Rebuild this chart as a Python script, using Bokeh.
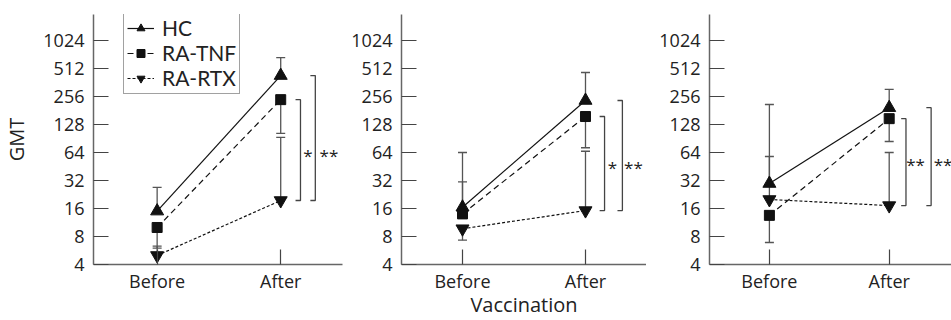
from bokeh.plotting import figure
from bokeh.models import (Range1d, FixedTicker, Whisker, ColumnDataSource, Legend,
                          LegendItem, TeeHead)
from bokeh.layouts import row
from bokeh.embed import file_html
from bokeh.resources import INLINE
from bokeh.core.properties import value

# ---------------- data ----------------
x_pos = [1, 2]
x_labels = ["Before", "After"]
y_ticks = [4, 8, 16, 32, 64, 128, 256, 512, 1024]
y_tick_labels = ["4", "8", "16", "32", "64", "128", "256", "512", "1024"]

series_names = ["HC", "RA-TNF", "RA-RTX"]

# geometric mean titres per panel (Before, After)
HC_before = [15, 16.5, 29.7]
HC_after = [430, 232, 194]
TNF_before = [10, 14, 13.5]
TNF_after = [237, 156, 148]
RTX_before = [5, 9.7, 20]
RTX_after = [19.5, 15.2, 17.2]

# end of the one-sided error bar per panel
HC_before_err = [27, 64, 210]
HC_after_err = [670, 464, 305]
TNF_before_err = [6, 31, 6.9]
TNF_after_err = [103, 72, 84]
RTX_before_err = [6.3, 7.3, 58]
RTX_after_err = [93, 66, 64]

# significance annotations
inner_stars = ["*", "*", "**"]
outer_stars = ["**", "**", "**"]
star_level = [59, 44, 47.5]

x_title = "Vaccination"
y_title = "GMT"

# ---------------- layout ----------------
FONT = "Open Sans"
LFONT = "Lato"
TXT = "#222222"
AX = "#666666"
panel_geom = [
    dict(width=345, left=92, right=3, xs=0.485, xe=2.5),
    dict(width=301, left=56, right=0, xs=0.504, xe=2.496),
    dict(width=305, left=63, right=0, xs=0.5, xe=2.52),
]
bracket_geom = [
    dict(inner=0.16, outer=0.28, tin=0.22, tout=0.39, tick=0.04),
    dict(inner=0.155, outer=0.30, tin=0.22, tout=0.39, tick=0.04),
    dict(inner=0.14, outer=0.35, tin=0.22, tout=0.45, tick=0.04),
]
styles = [
    dict(dash="solid", marker="triangle", size=13),
    dict(dash="6 4", marker="square", size=10),
    dict(dash="3 2", marker="inverted_triangle", size=13),
]


def make_panel(i):
    g = panel_geom[i]
    p = figure(width=g["width"], height=320,
               x_range=Range1d(g["xs"], g["xe"]), y_range=Range1d(4, 1950),
               y_axis_type="log", output_backend="svg", toolbar_location=None,
               min_border_left=g["left"], min_border_right=g["right"],
               min_border_top=14, min_border_bottom=56)
    p.outline_line_color = None
    p.xgrid.visible = False
    p.ygrid.visible = False

    means = [(HC_before[i], HC_after[i]), (TNF_before[i], TNF_after[i]),
             (RTX_before[i], RTX_after[i])]
    errs = [(HC_before_err[i], HC_after_err[i]), (TNF_before_err[i], TNF_after_err[i]),
            (RTX_before_err[i], RTX_after_err[i])]

    up = dict(base=[], lower=[], upper=[])
    dn = dict(base=[], lower=[], upper=[])
    for m, e in zip(means, errs):
        for k in range(2):
            if e[k] >= m[k]:
                up["base"].append(x_pos[k]); up["lower"].append(m[k]); up["upper"].append(e[k])
            else:
                dn["base"].append(x_pos[k]); dn["lower"].append(e[k]); dn["upper"].append(m[k])
    w_up = Whisker(source=ColumnDataSource(up), base="base", lower="lower", upper="upper",
                   line_color="#555555", line_width=1.3, lower_head=None,
                   upper_head=TeeHead(size=9, line_color="#555555", line_width=1.3),
                   level="underlay")
    w_dn = Whisker(source=ColumnDataSource(dn), base="base", lower="lower", upper="upper",
                   line_color="#555555", line_width=1.3, upper_head=None,
                   lower_head=TeeHead(size=9, line_color="#555555", line_width=1.3),
                   level="underlay")
    p.add_layout(w_up)
    p.add_layout(w_dn)

    items = []
    for s, (m, st) in enumerate(zip(means, styles)):
        ln = p.line(x_pos, list(m), line_color="#111111", line_width=1.2, line_dash=st["dash"])
        sc = p.scatter(x_pos, list(m), marker=st["marker"], size=st["size"],
                       fill_color="#111111", line_color="#111111")
        items.append(LegendItem(label=series_names[s], renderers=[ln, sc]))

    b = bracket_geom[i]
    bottom = RTX_after[i]
    for top, off, toff, txt in [(TNF_after[i], b["inner"], b["tin"], inner_stars[i]),
                                (HC_after[i], b["outer"], b["tout"], outer_stars[i])]:
        xb = x_pos[1] + off
        p.line([xb - b["tick"], xb, xb, xb - b["tick"]], [top, top, bottom, bottom],
               line_color="#444444", line_width=1.3)
        p.text([x_pos[1] + toff], [star_level[i]], text=[txt], text_align="center",
               text_baseline="middle", text_font=value(FONT), text_font_size="17px",
               text_color=TXT, y_offset=0)

    p.xaxis.ticker = FixedTicker(ticks=x_pos)
    p.xaxis.major_label_overrides = {x: l for x, l in zip(x_pos, x_labels)}
    p.yaxis.ticker = FixedTicker(ticks=y_ticks)
    p.yaxis.major_label_overrides = {t: l for t, l in zip(y_ticks, y_tick_labels)}
    for ax in (p.xaxis[0], p.yaxis[0]):
        ax.axis_line_color = AX
        ax.axis_line_width = 1.5
        ax.major_tick_line_color = "#444444"
        ax.major_tick_line_width = 1.2
        ax.major_tick_in = 15
        ax.major_tick_out = 0
        ax.minor_tick_line_color = None
        ax.major_label_text_font = FONT
        ax.major_label_text_font_size = "18px"
        ax.major_label_text_color = TXT
        ax.axis_label_text_font = FONT
        ax.axis_label_text_font_size = "20px"
        ax.axis_label_text_font_style = "normal"
        ax.axis_label_text_color = TXT
    p.yaxis.major_label_standoff = 9
    p.xaxis.major_label_standoff = 4
    if i == 0:
        p.yaxis.axis_label = y_title
        p.yaxis.axis_label_standoff = 10
        legend = Legend(items=items, location=(30, 170), label_text_font=LFONT,
                        label_text_font_size="21px", label_text_color=TXT,
                        glyph_width=27, glyph_height=20, label_height=20, spacing=0,
                        padding=3, margin=0, label_standoff=8,
                        border_line_color="#444444", border_line_width=1.5,
                        background_fill_color="white", background_fill_alpha=1)
        p.add_layout(legend)
    if i == 1:
        p.xaxis.axis_label = x_title
        p.xaxis.axis_label_standoff = -5
    return p


panels = [make_panel(i) for i in range(3)]
layout = row(*panels, spacing=0)
open("out.html", "w").write(file_html(layout, INLINE))
